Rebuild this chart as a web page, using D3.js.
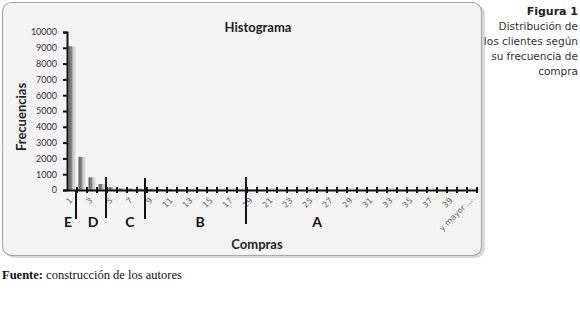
<!DOCTYPE html>
<html>
<head>
<meta charset="utf-8">
<script src="https://cdn.jsdelivr.net/npm/d3@7"></script>
<style>
  body { margin: 0; background: #fff; }
  svg { display: block; }
</style>
</head>
<body>
<div id="chart"></div>
<script>
// categories 1..40 plus the open last class
const categories = d3.range(1, 41).map(String).concat(["y mayor ..."]);
const frequencies = [9100, 2100, 800, 380, 180, 100, 90, 80, 60, 50,
                     40, 35, 30, 25, 20, 15, 12, 10, 8, 7,
                     6, 5, 5, 4, 4, 3, 3, 3, 2, 2,
                     2, 2, 2, 1, 1, 1, 1, 1, 1, 1, 8];
const yTicks = d3.range(0, 10001, 1000);
const xTickLabels = categories.filter((d, i) => i % 2 === 0);
// segment dividers, in category units (1 = centre of first class)
const dividers = [1.4, 4.4, 8.3, 18.4];
const segments = [
    { label: "E", at: 0.6 },
    { label: "D", at: 3.1 },
    { label: "C", at: 6.8 },
    { label: "B", at: 13.8 },
    { label: "A", at: 25.5 }
];
const noteLines = ["Distribución de", "los clientes según", "su frecuencia de", "compra"];

const svg = d3.select("#chart").append("svg")
    .attr("width", 580)
    .attr("height", 314);

const defs = svg.append("defs");
const grad = defs.append("linearGradient")
    .attr("id", "barGrad")
    .attr("x1", "0%").attr("x2", "100%");
grad.append("stop").attr("offset", "0%").attr("stop-color", "#606060");
grad.append("stop").attr("offset", "45%").attr("stop-color", "#858585");
grad.append("stop").attr("offset", "62%").attr("stop-color", "#cacaca");
grad.append("stop").attr("offset", "100%").attr("stop-color", "#dcdcdc");

// chart frame + soft shadow
svg.append("rect")
    .attr("x", 5).attr("y", 5)
    .attr("width", 480).attr("height", 253)
    .attr("rx", 9)
    .attr("fill", "#dadada");
svg.append("rect")
    .attr("x", 2.5).attr("y", 2.5)
    .attr("width", 479).attr("height", 253)
    .attr("rx", 9)
    .attr("fill", "#f4f4f4")
    .attr("stroke", "#a8a8a8")
    .attr("stroke-width", 1.2);

const plotLeft = 67, plotRight = 477, plotTop = 32, plotBottom = 190;

const x = d3.scaleBand()
    .domain(categories)
    .range([plotLeft, plotRight])
    .paddingInner(0.3)
    .paddingOuter(0.15);

const y = d3.scaleLinear()
    .domain([0, 10000])
    .range([plotBottom, plotTop]);

// category units -> pixels
const xc = d3.scaleLinear()
    .domain([0.5, categories.length + 0.5])
    .range([plotLeft, plotRight]);

// bars
svg.append("g").selectAll("rect")
    .data(frequencies)
    .enter()
    .append("rect")
    .attr("x", (d, i) => x(categories[i]))
    .attr("y", d => y(d))
    .attr("width", x.bandwidth())
    .attr("height", d => plotBottom - y(d))
    .attr("fill", "url(#barGrad)");

// y axis
const yAxis = d3.axisLeft(y)
    .tickValues(yTicks)
    .tickSize(4)
    .tickPadding(6)
    .tickFormat(d3.format("d"));
const yg = svg.append("g")
    .attr("transform", `translate(${plotLeft},0)`)
    .call(yAxis);
yg.select(".domain").attr("stroke", "#111").attr("stroke-width", 2);
yg.selectAll(".tick line").attr("stroke", "#111").attr("stroke-width", 2);
yg.selectAll("text")
    .style("font-family", "Lato, sans-serif")
    .style("font-size", "9px")
    .attr("fill", "#333");

// x axis: labels every other class
const xAxis = d3.axisBottom(x)
    .tickValues(xTickLabels)
    .tickSize(0);
const xg = svg.append("g")
    .attr("transform", `translate(0,${plotBottom})`)
    .call(xAxis);
xg.select(".domain").attr("stroke", "#111").attr("stroke-width", 2);
xg.selectAll("text")
    .attr("x", 0)
    .attr("y", 0)
    .attr("dy", "0.35em")
    .attr("text-anchor", "end")
    .attr("transform", "translate(-1,9) rotate(-45)")
    .style("font-family", "'DejaVu Sans', sans-serif")
    .style("font-size", "8px")
    .attr("fill", "#666");

// tick marks at class boundaries
svg.append("g").selectAll("line")
    .data(d3.range(1, categories.length + 1))
    .enter()
    .append("line")
    .attr("x1", d => xc(d + 0.5))
    .attr("x2", d => xc(d + 0.5))
    .attr("y1", plotBottom - 3)
    .attr("y2", plotBottom + 3)
    .attr("stroke", "#111")
    .attr("stroke-width", 2);

// segment divider lines
const divY = [[191, 219], [177, 218], [178, 219], [177, 224]];
svg.append("g").selectAll("line")
    .data(dividers)
    .enter()
    .append("line")
    .attr("x1", d => xc(d))
    .attr("x2", d => xc(d))
    .attr("y1", (d, i) => divY[i][0])
    .attr("y2", (d, i) => divY[i][1])
    .attr("stroke", "#111")
    .attr("stroke-width", 2);

svg.append("g").selectAll("text")
    .data(segments)
    .enter()
    .append("text")
    .attr("x", d => xc(d.at))
    .attr("y", 227)
    .attr("text-anchor", "middle")
    .style("font-family", "Lato, sans-serif")
    .style("font-size", "14px")
    .style("font-weight", "bold")
    .attr("fill", "#111")
    .text(d => d.label);

// title
svg.append("text")
    .attr("x", 258)
    .attr("y", 32)
    .attr("text-anchor", "middle")
    .style("font-family", "Lato, sans-serif")
    .style("font-size", "13px")
    .style("font-weight", "bold")
    .attr("fill", "#222")
    .text("Histograma");

// axis titles
svg.append("text")
    .attr("x", 257)
    .attr("y", 249)
    .attr("text-anchor", "middle")
    .style("font-family", "Lato, sans-serif")
    .style("font-size", "13px")
    .style("font-weight", "bold")
    .attr("fill", "#222")
    .text("Compras");

svg.append("text")
    .attr("transform", "rotate(-90)")
    .attr("x", -117)
    .attr("y", 26)
    .attr("text-anchor", "middle")
    .style("font-family", "Lato, sans-serif")
    .style("font-size", "13px")
    .style("font-weight", "bold")
    .attr("fill", "#222")
    .text("Frecuencias");

// side note
svg.append("text")
    .attr("x", 578)
    .attr("y", 15)
    .attr("text-anchor", "end")
    .style("font-family", "'DejaVu Sans', sans-serif")
    .style("font-size", "11px")
    .style("font-weight", "bold")
    .attr("fill", "#222")
    .text("Figura 1");

svg.append("g").selectAll("text")
    .data(noteLines)
    .enter()
    .append("text")
    .attr("x", 578)
    .attr("y", (d, i) => 30 + i * 15)
    .attr("text-anchor", "end")
    .style("font-family", "'DejaVu Sans', sans-serif")
    .style("font-size", "10.5px")
    .attr("fill", "#333")
    .text(d => d);

// source
const src = svg.append("text")
    .attr("x", 2)
    .attr("y", 279)
    .style("font-family", "'Liberation Serif', 'Times New Roman', serif")
    .style("font-size", "12.5px")
    .attr("fill", "#111");
src.append("tspan").style("font-weight", "bold").text("Fuente:");
src.append("tspan").text(" construcción de los autores");
</script>
</body>
</html>
